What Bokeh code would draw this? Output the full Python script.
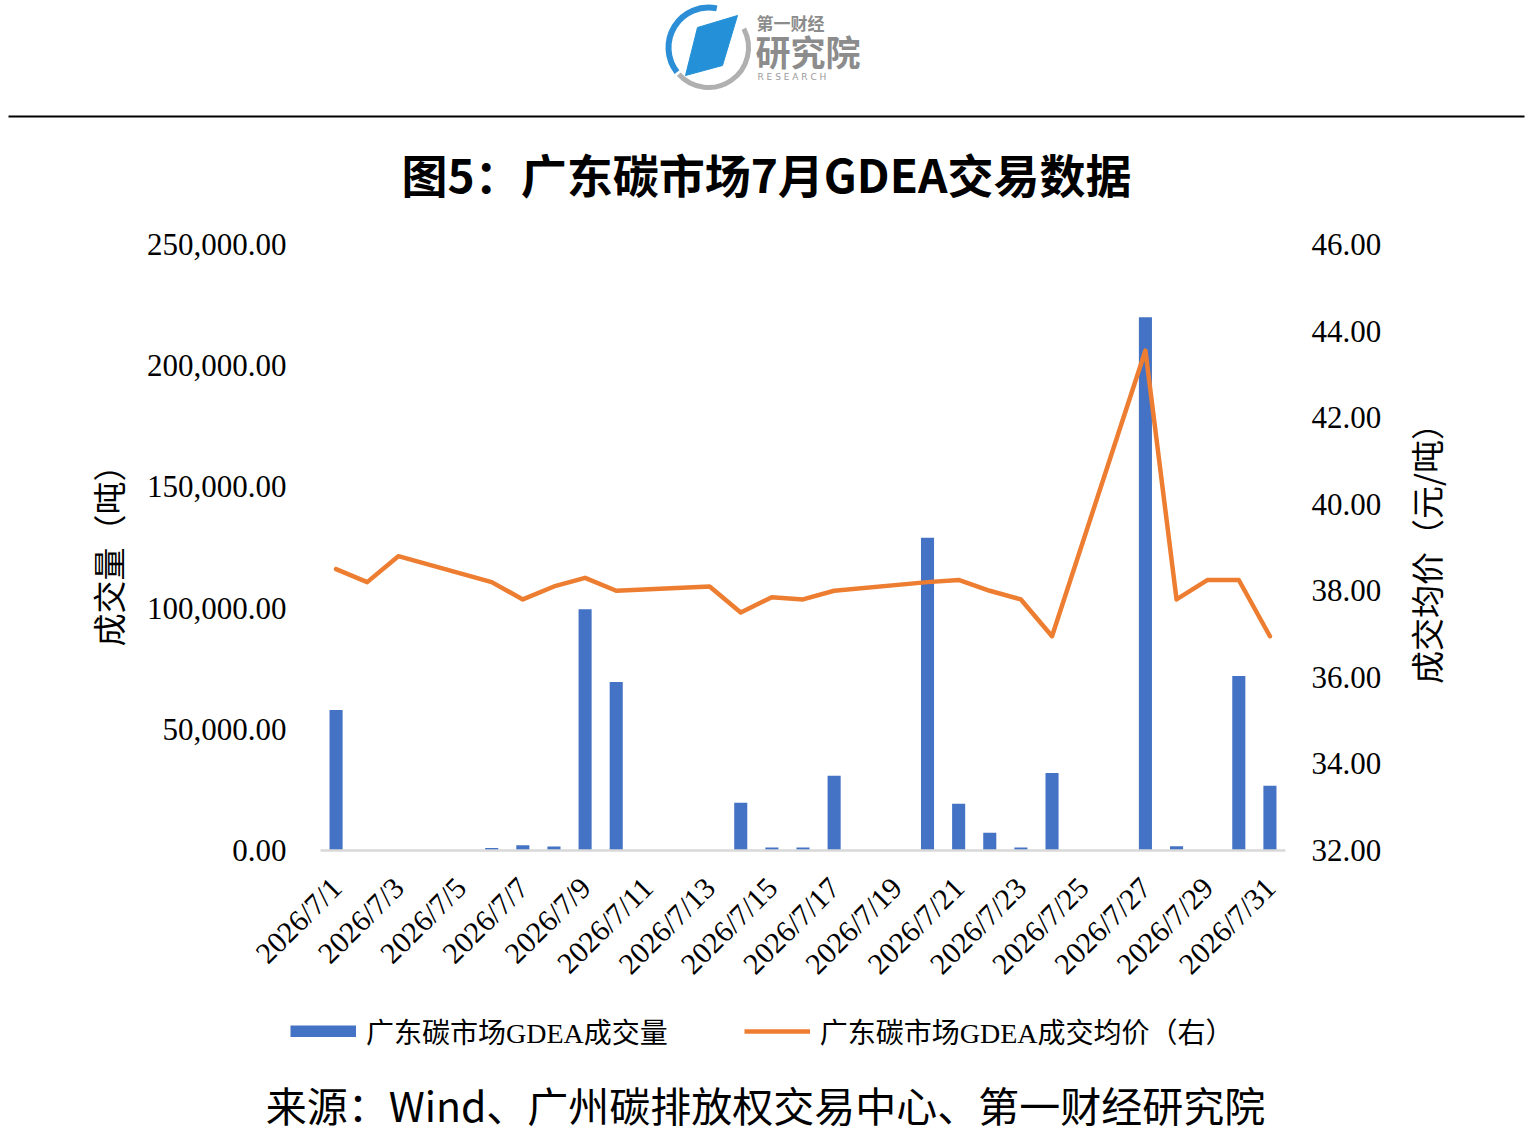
import math
from bokeh.plotting import figure
from bokeh.layouts import column, row
from bokeh.models import (Range1d, LinearAxis, FixedTicker, NumeralTickFormatter,
                          Legend, LegendItem, ColumnDataSource)
from bokeh.core.properties import value
from bokeh.embed import file_html
from bokeh.resources import INLINE

# ---------------- data ----------------
dates = ["2026/7/1", "2026/7/2", "2026/7/3", "2026/7/4", "2026/7/5", "2026/7/6",
         "2026/7/7", "2026/7/8", "2026/7/9", "2026/7/10", "2026/7/11", "2026/7/12",
         "2026/7/13", "2026/7/14", "2026/7/15", "2026/7/16", "2026/7/17", "2026/7/18",
         "2026/7/19", "2026/7/20", "2026/7/21", "2026/7/22", "2026/7/23", "2026/7/24",
         "2026/7/25", "2026/7/26", "2026/7/27", "2026/7/28", "2026/7/29", "2026/7/30",
         "2026/7/31"]
days = [1, 2, 3, 4, 5, 6, 7, 8, 9, 10, 11, 12, 13, 14, 15, 16, 17, 18, 19, 20,
        21, 22, 23, 24, 25, 26, 27, 28, 29, 30, 31]
volume = [58000, 0, 0, 0, 0, 1000, 2200, 1600, 99500, 69500, 0, 0, 0, 19700,
          1200, 1200, 30800, 0, 0, 129000, 19300, 7300, 1200, 32000, 0, 0,
          220000, 1800, 0, 72000, 26700]
price = [38.5, 38.2, 38.8, None, None, 38.2, 37.8, 38.1, 38.3, 38.0, None, None,
         38.1, 37.5, 37.85, 37.8, 38.0, None, None, 38.2, 38.25, 38.0, 37.8, 36.95,
         None, None, 43.55, 37.8, 38.25, 38.25, 36.95]
label_days = [1, 3, 5, 7, 9, 11, 13, 15, 17, 19, 21, 23, 25, 27, 29, 31]
vol_ticks = [0, 50000, 100000, 150000, 200000, 250000]
price_ticks = [32, 34, 36, 38, 40, 42, 44, 46]
series_names = ["广东碳市场GDEA成交量", "广东碳市场GDEA成交均价（右）"]
vol_axis_title = "成交量（吨）"
price_axis_title = "成交均价（元/吨）"
title_text = "图5：广东碳市场7月GDEA交易数据"
source_text = "来源：Wind、广州碳排放权交易中心、第一财经研究院"
logo_texts = ["第一财经", "研究院", "R E S E A R C H"]

BLUE = "#4472C4"
ORANGE = "#ED7D31"
W = 1534
SERIF = "Liberation Serif"
CJK = "Noto Sans CJK SC"
MIXED = "'Liberation Serif', 'Noto Sans CJK SC'"


def no_align(fig):
    if "frame_align" in fig.properties():
        fig.frame_align = False
    return fig


def blank(width, height, x0, y0):
    f = figure(width=width, height=height, x_range=Range1d(x0, x0 + width),
               y_range=Range1d(y0, y0 + height), x_axis_type=None, y_axis_type=None,
               output_backend="svg", toolbar_location=None, min_border=0,
               outline_line_color=None)
    return no_align(f)


# ---------------- header (page y 0..228) ----------------
HH = 228
def hy(py):
    return HH - py

hdr = blank(W, HH, 0, 0)
hdr.arc(x=[708], y=[hy(47)], radius=40, start_angle=math.radians(222),
        end_angle=math.radians(28), line_color="#B0B0B0", line_width=5)
hdr.arc(x=[708], y=[hy(47)], radius=40, start_angle=math.radians(78),
        end_angle=math.radians(218), line_color="#2B8ED6", line_width=6)
hdr.patch(x=[697, 737, 722, 685], y=[hy(27), hy(15), hy(65), hy(75)],
          fill_color="#2390D8", line_color="#2390D8")
hdr.text(x=[756], y=[hy(22)], text=[logo_texts[0]], text_font=value(CJK),
         text_font_size=value("17px"), text_font_style="bold", text_color="#8C8C8C",
         text_align="left", text_baseline="middle")
hdr.text(x=[755], y=[hy(50)], text=[logo_texts[1]], text_font=value(CJK),
         text_font_size=value("35px"), text_font_style="bold", text_color="#8C8C8C",
         text_align="left", text_baseline="middle")
hdr.text(x=[757], y=[hy(76)], text=[logo_texts[2]], text_font=value("DejaVu Sans"),
         text_font_size=value("9px"), text_color="#9A9A9A",
         text_align="left", text_baseline="middle")
hdr.line(x=[8, 1524], y=[hy(116), hy(116)], line_color="black", line_width=2)
hdr.text(x=[766], y=[hy(172)], text=[title_text], text_font=value(CJK),
         text_font_size=value("46px"), text_font_style="bold", text_color="black",
         text_align="center", text_baseline="middle")

# ---------------- main chart (page y 228..1000, x 0..1390) ----------------
MW, MH = 1390, 772
p = figure(width=MW, height=MH, x_range=Range1d(0.5, 31.5), y_range=Range1d(0, 250000),
           output_backend="svg", toolbar_location=None,
           min_border_left=320, min_border_right=MW - 1285, min_border_top=16,
           min_border_bottom=150, outline_line_color=None)
no_align(p)
p.extra_y_ranges = {"price": Range1d(32, 46)}
p.xgrid.visible = False
p.ygrid.visible = False

bar_src = ColumnDataSource(dict(
    day=[d for d, v in zip(days, volume) if v > 0],
    vol=[v for v in volume if v > 0]))
bars = p.vbar(x="day", top="vol", width=0.42, source=bar_src,
              fill_color=BLUE, line_color=None)

line_src = ColumnDataSource(dict(
    day=[d for d, v in zip(days, price) if v is not None],
    price=[v for v in price if v is not None]))
ln = p.line(x="day", y="price", source=line_src, y_range_name="price",
            line_color=ORANGE, line_width=4.5, line_join="round", line_cap="round")

xa = p.xaxis[0]
xa.ticker = FixedTicker(ticks=label_days)
xa.major_label_overrides = {d: s for d, s in zip(days, dates)}
xa.major_label_orientation = math.pi / 4
xa.major_label_text_font = SERIF
xa.major_label_text_font_size = "30px"
xa.major_label_text_color = "black"
xa.major_label_standoff = 32
xa.major_tick_line_color = None
xa.minor_tick_line_color = None
xa.major_tick_out = 0
xa.major_tick_in = 0
xa.minor_tick_out = 0
xa.axis_line_color = "#D9D9D9"
xa.axis_line_width = 2.5

ya = p.yaxis[0]
ya.ticker = FixedTicker(ticks=vol_ticks)
ya.formatter = NumeralTickFormatter(format="0,0.00")
ya.axis_line_color = None
ya.major_tick_line_color = None
ya.minor_tick_line_color = None
ya.major_tick_out = 0
ya.major_tick_in = 0
ya.minor_tick_out = 0
ya.major_label_text_font = SERIF
ya.major_label_text_font_size = "31px"
ya.major_label_text_color = "black"
ya.major_label_standoff = 34
ya.axis_label = vol_axis_title
ya.axis_label_text_font = CJK
ya.axis_label_text_font_style = "normal"
ya.axis_label_text_font_size = "33px"
ya.axis_label_text_color = "black"
ya.axis_label_standoff = 12

ra = LinearAxis(y_range_name="price")
ra.ticker = FixedTicker(ticks=price_ticks)
ra.formatter = NumeralTickFormatter(format="0.00")
ra.axis_line_color = None
ra.major_tick_line_color = None
ra.minor_tick_line_color = None
ra.major_tick_out = 0
ra.major_tick_in = 0
ra.minor_tick_out = 0
ra.major_label_text_font = SERIF
ra.major_label_text_font_size = "31px"
ra.major_label_text_color = "black"
ra.major_label_standoff = 26
p.add_layout(ra, "right")

# right axis title (reads bottom-to-top, centred on the plot frame)
strip = blank(W - MW, MH, MW, 0)
strip.text(x=[1425], y=[1000 - 545], text=[price_axis_title], text_font=value(CJK),
           text_font_size=value("33px"), text_color="black", angle=math.pi / 2,
           text_align="center", text_baseline="middle")

# ---------------- footer (page y 1000..1134): legend + source ----------------
FH = 134
ftr = blank(W, FH, 0, 0)
# legend keys (placed outside the visible range, used only as legend swatches)
proxy_bar = ftr.line(x=[-600, -500], y=[-500, -500], line_color=BLUE,
                     line_width=12, line_cap="butt")
proxy_line = ftr.line(x=[-600, -500], y=[-500, -500], line_color=ORANGE, line_width=4.5)
legend = Legend(items=[LegendItem(label=series_names[0], renderers=[proxy_bar]),
                       LegendItem(label=series_names[1], renderers=[proxy_line])],
                location=(290, 83), orientation="horizontal",
                glyph_width=66, glyph_height=12, label_standoff=10, spacing=76,
                padding=0, margin=0, border_line_alpha=0, background_fill_alpha=0,
                label_text_font=MIXED, label_text_font_size="28px",
                label_text_color="black")
ftr.add_layout(legend)
ftr.text(x=[765], y=[FH - 103], text=[source_text], text_font=value(CJK),
         text_font_size=value("41px"), text_color="black",
         text_align="center", text_baseline="middle")

layout = column(hdr, row(p, strip, spacing=0), ftr, spacing=0)
open("out.html", "w").write(file_html(layout, INLINE))
